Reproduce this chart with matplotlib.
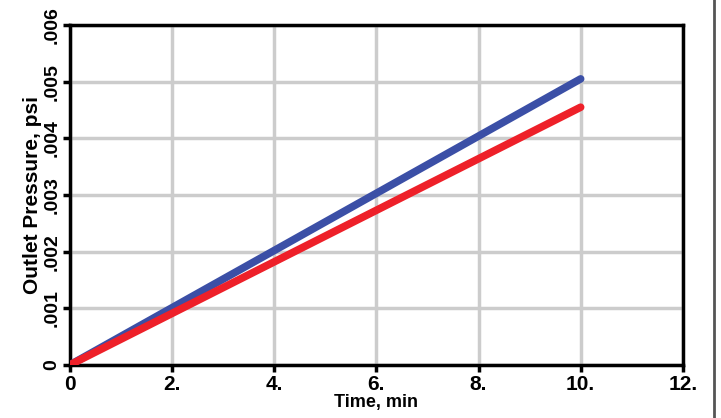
import matplotlib
matplotlib.use('Agg')
import matplotlib.pyplot as plt
from matplotlib.lines import Line2D

# data
time_min = [0, 2, 4, 6, 8, 10]
blue_psi = [0, 0.00101, 0.00202, 0.00303, 0.00404, 0.00505]
red_psi = [0, 0.00091, 0.00182, 0.00273, 0.00364, 0.00455]

x_ticks = [0, 2, 4, 6, 8, 10, 12]
x_labels = ['0', '2.', '4.', '6.', '8.', '10.', '12.']
y_ticks = [0, 0.001, 0.002, 0.003, 0.004, 0.005, 0.006]
y_labels = ['0', '.001', '.002', '.003', '.004', '.005', '.006']

plt.rcParams['font.family'] = ['Liberation Sans', 'DejaVu Sans']
plt.rcParams['font.weight'] = 'bold'

fig = plt.figure(figsize=(7.21, 4.18), dpi=100)
ax = fig.add_axes((0.097, 0.127, 0.85, 0.813))

ax.plot(time_min, blue_psi, color='#3b4fa6', lw=5.5, solid_capstyle='round', zorder=3)
ax.plot(time_min, red_psi, color='#ee2029', lw=5.5, solid_capstyle='round', zorder=4)

ax.set_xlim(0, 12)
ax.set_ylim(0, 0.006)
ax.set_xticks(x_ticks)
ax.set_xticklabels(x_labels, fontsize=15, fontweight='bold')
ax.set_yticks(y_ticks)
ax.set_yticklabels(y_labels, fontsize=14, fontweight='bold', rotation=90, va='center')

ax.grid(True, color='#cccccc', lw=2.5)
ax.set_axisbelow(True)
for s in ax.spines.values():
    s.set_linewidth(2.5)
ax.tick_params(width=2.5, length=5, pad=2)

ax.set_xlabel('Time, min', fontsize=13, fontweight='bold', labelpad=0)
ax.set_ylabel('Outlet Pressure, psi', fontsize=15, fontweight='bold', labelpad=1)

# gray frame edge on the right
fig.add_artist(Line2D([0.99, 0.99], [0, 1], color='#555555', lw=2, transform=fig.transFigure))

plt.savefig('out.png', dpi=100)
